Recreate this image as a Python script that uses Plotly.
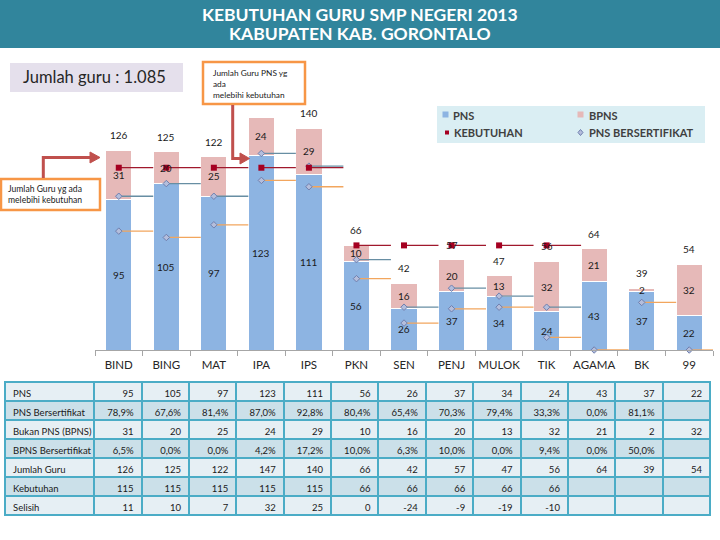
import plotly.graph_objects as go

# ---------------- data ----------------
categories = ["BIND", "BING", "MAT", "IPA", "IPS", "PKN", "SEN", "PENJ", "MULOK", "TIK", "AGAMA", "BK", "99"]
pns = [95, 105, 97, 123, 111, 56, 26, 37, 34, 24, 43, 37, 22]
bpns = [31, 20, 25, 24, 29, 10, 16, 20, 13, 32, 21, 2, 32]
total_labels = [126, 125, 122, None, 140, 66, 42, 57, 47, 56, 64, 39, 54]
kebutuhan = [115, 115, 115, 115, 115, 66, 66, 66, 66, 66, None, None, None]
pns_bersertifikat = [75, 71, 79, 107, 103, 45, 17, 26, 27, 8, 0, 30, 0]
pns_plus_bpns_sert = [97, 105, 97, 124, 116, 57, 27, 39, 34, 27, None, None, None]

row_labels = ["PNS", "PNS Bersertifikat", "Bukan PNS (BPNS)", "BPNS Bersertifikat",
              "Jumlah Guru", "Kebutuhan", "Selisih"]
pct_pns_sert = ["78,9%", "67,6%", "81,4%", "87,0%", "92,8%", "80,4%", "65,4%", "70,3%",
                "79,4%", "33,3%", "0,0%", "81,1%", ""]
pct_bpns_sert = ["6,5%", "0,0%", "0,0%", "4,2%", "17,2%", "10,0%", "6,3%", "10,0%",
                 "0,0%", "9,4%", "0,0%", "50,0%", ""]
jumlah_guru = [126, 125, 122, 147, 140, 66, 42, 57, 47, 56, 64, 39, 54]
kebutuhan_tbl = ["115", "115", "115", "115", "115", "66", "66", "66", "66", "66", "", "", ""]
selisih = ["11", "10", "7", "32", "25", "0", "-24", "-9", "-19", "-10", "", "", ""]

legend_names = ["PNS", "BPNS", "KEBUTUHAN", "PNS BERSERTIFIKAT"]

# ---------------- helpers ----------------
W, H = 720, 540
def X(p):
    return p / W
def Y(p):
    return 1 - p / H

FONT = "Lato"
NB = "\u00a0"
n = len(categories)
xs = list(range(n))
seg = [0.725] * (n - 1) + [0.5]
zeros = [0] * n

C_PNS, C_BPNS, C_KEB = "#8db4e2", "#e6b9b8", "#a50021"
C_DIA, C_DIA_LINE = "#b4bedc", "#6f7fae"

fig = go.Figure()

# bars
fig.add_trace(go.Bar(x=xs, y=pns, name="PNS", width=0.55, showlegend=False,
                     marker=dict(color=C_PNS, line=dict(color="white", width=1))))
fig.add_trace(go.Bar(x=xs, y=bpns, name="BPNS", width=0.55, showlegend=False,
                     marker=dict(color=C_BPNS, line=dict(color="white", width=1))))

# marker series with horizontal segments
fig.add_trace(go.Scatter(x=xs, y=pns_plus_bpns_sert, mode="markers", showlegend=False,
                         cliponaxis=False, name="PNS + BPNS Bersertifikat",
                         marker=dict(symbol="diamond", size=5, color=C_DIA,
                                     line=dict(color=C_DIA_LINE, width=1)),
                         error_x=dict(type="data", symmetric=False, array=seg, arrayminus=zeros,
                                      color="#678ea3", thickness=1.3, width=0)))
fig.add_trace(go.Scatter(x=xs, y=pns_bersertifikat, mode="markers", showlegend=False,
                         cliponaxis=False, name="PNS BERSERTIFIKAT",
                         marker=dict(symbol="diamond", size=5, color=C_DIA,
                                     line=dict(color=C_DIA_LINE, width=1)),
                         error_x=dict(type="data", symmetric=False, array=seg, arrayminus=zeros,
                                      color="#f2a65e", thickness=1.3, width=0)))
fig.add_trace(go.Scatter(x=xs, y=kebutuhan, mode="markers", showlegend=False,
                         cliponaxis=False, name="KEBUTUHAN",
                         marker=dict(symbol="square", size=6, color=C_KEB),
                         error_x=dict(type="data", symmetric=False, array=seg, arrayminus=zeros,
                                      color="#a0182c", thickness=1.3, width=0)))

# data table
light, dark, border = "#e6eff4", "#cbe0e9", "#4bacc6"
header_vals = [row_labels[0]] + [str(v) for v in pns]
cols = [[r.replace(" ", NB) for r in row_labels[1:]]]
for j in range(n):
    cols.append([pct_pns_sert[j], str(bpns[j]), pct_bpns_sert[j], str(jumlah_guru[j]),
                 kebutuhan_tbl[j], selisih[j]])
row_fill = [dark, light, dark, light, dark, light]
fig.add_trace(go.Table(
    domain=dict(x=[X(5), X(710)], y=[Y(525), Y(381.5)]),
    columnwidth=[89.3] + [47.4] * n,
    header=dict(values=header_vals, height=19, fill=dict(color=light),
                line=dict(color=border, width=2),
                align=["left"] + ["right"] * n,
                font=dict(family=FONT, size=9.5, color="#1a1a1a")),
    cells=dict(values=cols, height=19, fill=dict(color=[row_fill] * (n + 1)),
               line=dict(color=border, width=2),
               align=["left"] + ["right"] * n,
               font=dict(family=FONT, size=9.5, color="#1a1a1a")),
))

# bar value labels
lab_font = dict(family=FONT, size=10, color="#1a1a1a")
for i in xs:
    fig.add_annotation(x=i, y=pns[i] / 2, text=str(pns[i]), showarrow=False, font=lab_font)
    fig.add_annotation(x=i, y=pns[i] + bpns[i] / 2, text=str(bpns[i]), showarrow=False, font=lab_font)
    if total_labels[i] is not None:
        fig.add_annotation(x=i, y=pns[i] + bpns[i], text=str(total_labels[i]), showarrow=False,
                           yshift=15, font=lab_font)

shapes = []
annos = []
def rect(x0, y0, x1, y1, **kw):
    d = dict(type="rect", xref="paper", yref="paper", x0=X(x0), x1=X(x1), y0=Y(y1), y1=Y(y0))
    d.update(kw)
    shapes.append(d)

def pth(points):
    return "M " + " L ".join(f"{X(a):.5f},{Y(b):.5f}" for a, b in points)

# title bar
rect(0, 0, 720, 48, fillcolor="#31859c", line=dict(width=0), layer="below")
for ty, tt in [(14.5, "KEBUTUHAN GURU SMP NEGERI 2013"), (33, "KABUPATEN KAB. GORONTALO")]:
    annos.append(dict(xref="paper", yref="paper", x=0.5, y=Y(ty), xanchor="center", yanchor="middle",
                      text=f"<b>{tt}</b>", showarrow=False,
                      font=dict(family=FONT, size=17.5, color="white")))
# Jumlah guru box
rect(10, 63, 183, 92, fillcolor="#e5e0ec", line=dict(width=0), layer="below")
annos.append(dict(xref="paper", yref="paper", x=X(94), y=Y(77.5), xanchor="center", yanchor="middle",
                  text="Jumlah guru : 1.085", showarrow=False,
                  font=dict(family=FONT, size=16.5, color="#262626")))

# legend (manual, two columns)
rect(437, 106, 705, 143, fillcolor="#daeef3", line=dict(width=0), layer="below")
leg_font = dict(family=FONT, size=11, color="#404040", weight="bold")
rect(442.5, 111.5, 448.5, 117.5, fillcolor=C_PNS, line=dict(width=0), layer="above")
rect(577.5, 111.5, 583.5, 117.5, fillcolor=C_BPNS, line=dict(width=0), layer="above")
rect(445, 130.5, 449, 134.5, fillcolor=C_KEB, line=dict(width=0), layer="above")
shapes.append(dict(type="path", xref="paper", yref="paper",
                   path=pth([(580.5, 129.5), (583, 132.5), (580.5, 135.5), (578, 132.5)]) + " Z",
                   fillcolor=C_DIA, line=dict(color=C_DIA_LINE, width=1), layer="above"))
for (lx, ly), name in zip([(450.5, 115), (586.5, 115), (451.5, 132.5), (586.5, 132.5)], legend_names):
    annos.append(dict(xref="paper", yref="paper", x=X(lx), y=Y(ly), xanchor="left", yanchor="middle",
                      text=name, showarrow=False, font=leg_font))

# orange call-out boxes
rect(203, 62, 305, 104, fillcolor="white", line=dict(color="#f79646", width=2.5), layer="above")
annos.append(dict(xref="paper", yref="paper", x=X(211), y=Y(83.5), xanchor="left", yanchor="middle",
                  align="left", text="Jumlah Guru PNS yg<br>ada<br>melebihi kebutuhan", showarrow=False,
                  font=dict(family=FONT, size=8.3, color="#1a1a1a")))
rect(1, 179, 100, 210, fillcolor="white", line=dict(color="#f79646", width=2.5), layer="above")
annos.append(dict(xref="paper", yref="paper", x=X(6), y=Y(194.5), xanchor="left", yanchor="middle",
                  align="left", text="Jumlah Guru yg ada<br>melebihi kebutuhan", showarrow=False,
                  font=dict(family=FONT, size=8.6, color="#1a1a1a")))

# arrows
arrow_col = "#c0504d"
shapes.append(dict(type="path", xref="paper", yref="paper",
                   path=pth([(232.7, 105), (232.7, 158.5), (241, 158.5)]),
                   line=dict(color=arrow_col, width=3), layer="above"))
shapes.append(dict(type="path", xref="paper", yref="paper",
                   path=pth([(240, 153), (249.5, 158.5), (240, 164)]) + " Z",
                   fillcolor=arrow_col, line=dict(color=arrow_col, width=1), layer="above"))
shapes.append(dict(type="path", xref="paper", yref="paper",
                   path=pth([(43.3, 178), (43.3, 157.5), (91, 157.5)]),
                   line=dict(color=arrow_col, width=3), layer="above"))
shapes.append(dict(type="path", xref="paper", yref="paper",
                   path=pth([(90, 152), (100, 157.5), (90, 163)]) + " Z",
                   fillcolor=arrow_col, line=dict(color=arrow_col, width=1), layer="above"))

fig.update_layout(
    width=W, height=H,
    margin=dict(l=0, r=0, t=0, b=0),
    paper_bgcolor="white", plot_bgcolor="rgba(0,0,0,0)",
    barmode="stack",
    showlegend=False,
    xaxis=dict(domain=[X(95), X(713)], range=[-0.5, n - 0.5], tickmode="array",
               tickvals=xs, ticktext=categories, ticks="outside", ticklen=4,
               tickcolor="rgba(0,0,0,0)", showline=True, linecolor="#a6a6a6", linewidth=1,
               showgrid=False, zeroline=False,
               tickfont=dict(family=FONT, size=11.5, color="#262626"),
               minor=dict(tick0=-0.5, dtick=1, ticks="outside", ticklen=5,
                          tickcolor="#a6a6a6", tickwidth=1, showgrid=False)),
    yaxis=dict(domain=[Y(350), Y(100)], range=[0, 250 / 1.585], visible=False),
    shapes=shapes,
)
for a in annos:
    fig.add_annotation(**a)

fig.write_html("out.html", config={"displayModeBar": False},
               post_script="document.body.style.margin='0px';")
